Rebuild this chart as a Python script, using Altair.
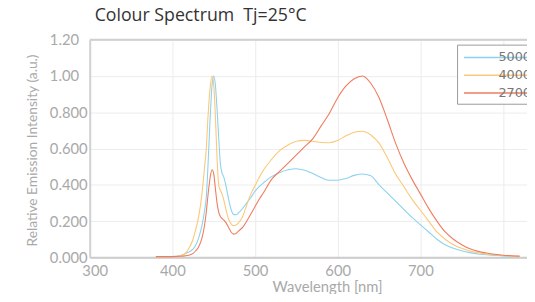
import altair as alt
import pandas as pd

# ---- data ----
wavelength = [380, 390, 400, 410, 415,
              420, 425, 428, 432, 436, 439, 441, 443, 446, 448,
              450, 452, 454, 456, 458, 460, 462, 465, 468, 471,
              474, 477, 480, 485, 490, 495, 500, 505, 510, 520,
              530, 540, 550, 560, 570, 580, 590, 600, 610, 620,
              630, 640, 650, 660, 670, 680, 690, 700, 710, 720,
              730, 740, 750, 760, 770, 780, 790, 800, 810, 820]

cct_5000 = [.003, .003, .004, .010, .020,
            .030, .045, .065, .110, .180, .260, .330, .500, .800, .950,
            1.00, .950, .820, .660, .520, .465, .445, .390, .320, .265,
            .237, .235, .245, .270, .300, .330, .365, .390, .410, .445,
            .468, .483, .489, .480, .462, .440, .425, .425, .435, .452,
            .460, .450, .400, .355, .310, .265, .220, .180, .140, .100,
            .070, .050, .036, .026, .019, .014, .011, .008, .006, .005]

cct_4000 = [.004, .004, .005, .010, .020,
            .050, .100, .150, .230, .360, .500, .600, .770, .950, 1.00,
            .950, .780, .550, .400, .370, .350, .320, .260, .210, .185,
            .175, .178, .190, .225, .290, .350, .395, .440, .480, .540,
            .590, .620, .640, .645, .640, .633, .632, .645, .670, .690,
            .695, .675, .630, .550, .460, .390, .320, .260, .200, .140,
            .100, .070, .050, .035, .025, .018, .014, .010, .008, .006]

cct_2700 = [.004, .004, .004, .006, .008,
            .012, .022, .035, .060, .110, .180, .250, .340, .450, .483,
            .460, .380, .300, .250, .225, .215, .207, .190, .165, .140,
            .128, .132, .145, .165, .200, .240, .280, .320, .355, .430,
            .475, .520, .565, .610, .655, .725, .795, .880, .945, .985,
            1.00, .960, .880, .760, .630, .520, .430, .350, .270, .200,
            .140, .100, .070, .047, .033, .024, .017, .012, .009, .007]

series_names = ["5000K", "4000K", "2700K"]
series_colors = ["#8cd2f0", "#fcc878", "#f07c5e"]
x_ticks = [300, 400, 500, 600, 700, 800]
y_ticks = [0.0, 0.2, 0.4, 0.6, 0.8, 1.0, 1.2]
y_top = [1.2]

rows = []
for name, vals in zip(series_names, [cct_5000, cct_4000, cct_2700]):
    for w, v in zip(wavelength, vals):
        rows.append({"Wavelength": w, "Intensity": v, "Series": name})
df = pd.DataFrame(rows)

FONT = "Lato"
GREY = "#a9a9a9"

x_enc = alt.X(
    "Wavelength:Q",
    scale=alt.Scale(domain=[300, 829], nice=False, zero=False),
    axis=alt.Axis(
        title="Wavelength [nm]",
        values=x_ticks,
        labelExpr="datum.value >= 800 ? '' : datum.label",
        ticks=False, tickSize=0,
        labelFlush=True, labelFlushOffset=8,
        labelPadding=6, labelFontSize=15, labelColor=GREY, labelFont=FONT,
        domainColor="#cccccc", domainWidth=2,
        gridColor="#ececec", gridWidth=1,
        titleFont=FONT, titleFontSize=15, titleColor=GREY, titleFontWeight="normal",
        titleX=241, titleY=35, titleBaseline="alphabetic", titleAlign="center",
    ),
)

y_scale = alt.Scale(domain=[0, 1.2], nice=False)
y_axis = alt.Axis(
    title="Relative Emission Intensity (a.u.)",
    values=y_ticks,
    labelExpr="datum.value >= 1 ? format(datum.value, '.2f') : format(datum.value, '.3f')",
    labelOverlap=False,
    ticks=False, tickSize=0,
    labelAlign="left", labelBaseline="middle", labelPadding=41,
    labelFontSize=15, labelColor=GREY, labelFont=FONT,
    domainColor="#d2d2d2", domainWidth=2,
    gridColor="#ececec", gridWidth=1,
    titleFont=FONT, titleFontSize=14, titleColor=GREY, titleFontWeight="normal",
    titleX=-58, titleY=112, titleAngle=270, titleBaseline="middle", titleAlign="center",
)

lines = alt.Chart(df).mark_line(strokeWidth=1.1, interpolate="monotone").encode(
    x=x_enc,
    y=alt.Y("Intensity:Q", scale=y_scale, axis=y_axis),
    color=alt.Color(
        "Series:N",
        scale=alt.Scale(domain=series_names, range=series_colors),
        legend=alt.Legend(
            orient="none", legendX=373, legendY=5, title=None,
            symbolType="M-0.75,0H7.25", symbolSize=256, symbolStrokeWidth=1.5,
            labelFont="DejaVu Sans", labelFontSize=13, labelColor="#777777",
            labelOffset=20, strokeColor="#9a9a9a", fillColor="white",
            padding=4, rowPadding=2, cornerRadius=0,
        ),
    ),
)

top_border = alt.Chart(pd.DataFrame({"Intensity": y_top})).mark_rule(
    color="#d0d0d0", strokeWidth=2
).encode(y=alt.Y("Intensity:Q", scale=y_scale, axis=y_axis))

chart = alt.layer(lines, top_border).properties(
    width=444,
    height=221,
    autosize=alt.AutoSizeParams(type="none"),
    padding={"left": 83, "top": 30, "right": 0, "bottom": 35},
    title=alt.TitleParams(
        "Colour Spectrum\u00a0 Tj=25°C",
        anchor="start", frame="group", baseline="alphabetic",
        font="Open Sans", fontSize=18, fontWeight="normal",
        color="#333333", offset=7, dx=5, dy=13,
    ),
).configure_view(stroke=None).configure(background="white")

chart.save("out.html", embed_options={"renderer": "svg", "actions": False})
